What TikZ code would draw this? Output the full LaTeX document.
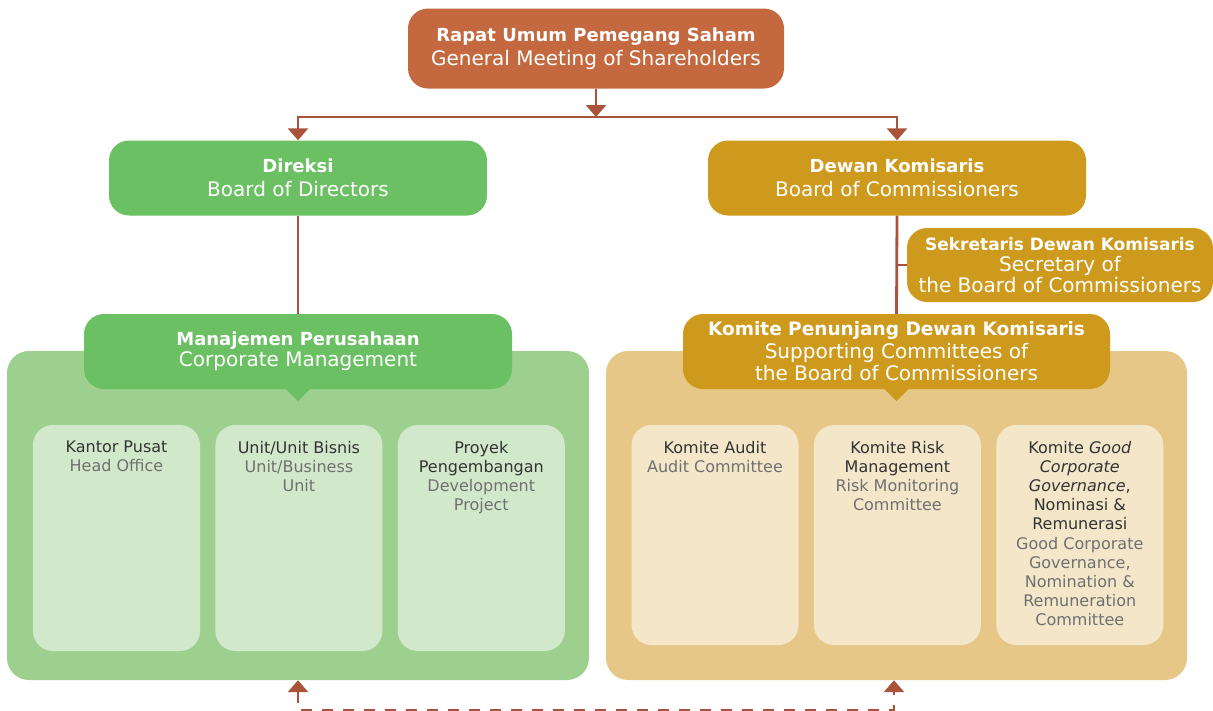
\documentclass[tikz,border=0pt]{standalone}
\usepackage{fontspec}
\setmainfont{DejaVu Sans}
\usepackage{xcolor}
\usepackage{tikz}
\usetikzlibrary{arrows.meta,positioning}
\definecolor{rustbox}{HTML}{C4693F}
\definecolor{rustline}{HTML}{A9533A}
\definecolor{leafdark}{HTML}{6CC064}
\definecolor{leafpanel}{HTML}{9DD08E}
\definecolor{leaflight}{HTML}{D2E8CB}
\definecolor{golddark}{HTML}{CE9A1D}
\definecolor{goldpanel}{HTML}{E6C787}
\definecolor{goldlight}{HTML}{F4E6C9}
\definecolor{inkdark}{HTML}{333333}
\definecolor{inkgray}{HTML}{707070}
\newcommand{\orghead}[2][18]{{\fontsize{#1}{23}\selectfont\bfseries #2}}
\tikzset{
    organ/.style={rectangle, rounded corners=20pt, align=center, text=white, inner sep=0pt, font=\fontsize{20}{23.5}\selectfont},
    panel/.style={rectangle, rounded corners=22pt, inner sep=0pt, minimum height=329pt},
    unit/.style={rectangle, rounded corners=20pt, inner sep=0pt, minimum width=167pt},
    unittext/.style={align=center, text=inkdark, inner sep=0pt, font=\fontsize{16}{19.2}\selectfont},
    link/.style={draw=rustline, line width=2.8pt},
    flowtip/.style={-{Triangle[width=20pt,length=12pt]}},
    feedback/.style={draw=rustline, line width=2.8pt, dash pattern=on 11pt off 10pt, {Triangle[width=20pt,length=12pt]}-{Triangle[width=20pt,length=12pt]}},
}
\begin{document}
\begin{tikzpicture}[x=1pt, y=-1pt]
    \useasboundingbox (0,0) rectangle (1213,710);

    \node[organ, fill=rustbox, minimum width=376pt, minimum height=80pt] (rups) at (596,48.5) {\orghead{Rapat Umum Pemegang Saham}\\General Meeting of Shareholders};
    \node[organ, fill=leafdark, minimum width=378pt, minimum height=75pt] (dir) at (298,178) {\orghead{Direksi}\\Board of Directors};
    \node[organ, fill=golddark, minimum width=378pt, minimum height=75pt] (dk) at (897,178) {\orghead{Dewan Komisaris}\\Board of Commissioners};
    \node[organ, fill=golddark, minimum width=306pt, minimum height=74pt, font=\fontsize{20}{21}\selectfont] (sek) at (1060,265) {\orghead[17]{Sekretaris Dewan Komisaris}\\Secretary of\\the Board of Commissioners};

    \coordinate (split) at (596,117);
    \draw[link, flowtip] (rups.south) -- (split);
    \draw[link, flowtip] (split) -| (dir.north);
    \draw[link, flowtip] (split) -| (dk.north);

    \node[panel, fill=leafpanel, minimum width=582pt] (mgmtpanel) at (298,515.5) {};
    \node[panel, fill=goldpanel, minimum width=581pt] (companel) at (896.5,515.5) {};

    \node[organ, fill=leafdark, minimum width=428pt, minimum height=75pt, font=\fontsize{20}{21}\selectfont] (mgmt) at (298,351.5) {\orghead{Manajemen Perusahaan}\\Corporate Management};
    \fill[leafdark] ([xshift=-12pt]mgmt.south) -- ([yshift=-12pt]mgmt.south) -- ([xshift=12pt]mgmt.south) -- cycle;
    \node[organ, fill=golddark, minimum width=427pt, minimum height=75pt, font=\fontsize{20}{22.5}\selectfont] (kom) at (896.5,351.5) {\orghead[18.5]{Komite Penunjang Dewan Komisaris}\\Supporting Committees of\\the Board of Commissioners};
    \fill[golddark] ([xshift=-12pt]kom.south) -- ([yshift=-12pt]kom.south) -- ([xshift=12pt]kom.south) -- cycle;

    \draw[link] (dir.south) -- (mgmt.north);
    \draw[link] (dk.south) -- (kom.north);
    \draw[link] (dk.south |- sek.west) -- (sek.west);

    \node[unit, fill=leaflight, minimum height=226pt] (kp) at (116.5,538) {};
    \node[unit, fill=leaflight, minimum height=226pt, right=15pt of kp] (ub) {};
    \node[unit, fill=leaflight, minimum height=226pt, right=15pt of ub] (pp) {};
    \node[unit, fill=goldlight, minimum height=220pt] (ka) at (715,535) {};
    \node[unit, fill=goldlight, minimum height=220pt, right=15pt of ka] (krm) {};
    \node[unit, fill=goldlight, minimum height=220pt, right=15pt of krm] (kgcg) {};

    \node[unittext, below=16pt of kp.north] {Kantor Pusat\\\textcolor{inkgray}{Head Office}};
    \node[unittext, below=16pt of ub.north] {Unit/Unit Bisnis\\\textcolor{inkgray}{Unit/Business}\\\textcolor{inkgray}{Unit}};
    \node[unittext, below=16pt of pp.north] {Proyek\\Pengembangan\\\textcolor{inkgray}{Development}\\\textcolor{inkgray}{Project}};
    \node[unittext, below=16pt of ka.north] {Komite Audit\\\textcolor{inkgray}{Audit Committee}};
    \node[unittext, below=16pt of krm.north] {Komite Risk\\Management\\\textcolor{inkgray}{Risk Monitoring}\\\textcolor{inkgray}{Committee}};
    \node[unittext, below=16pt of kgcg.north] {Komite \textit{Good}\\\textit{Corporate}\\\textit{Governance},\\Nominasi \&\\Remunerasi\\\textcolor{inkgray}{Good Corporate}\\\textcolor{inkgray}{Governance,}\\\textcolor{inkgray}{Nomination \&}\\\textcolor{inkgray}{Remuneration}\\\textcolor{inkgray}{Committee}};

    \coordinate (loopL) at (298,710);
    \coordinate (loopR) at (894,710);
    \draw[feedback] (mgmtpanel.south) -- (loopL) -- (loopR) -- (loopR |- companel.south);
\end{tikzpicture}
\end{document}
